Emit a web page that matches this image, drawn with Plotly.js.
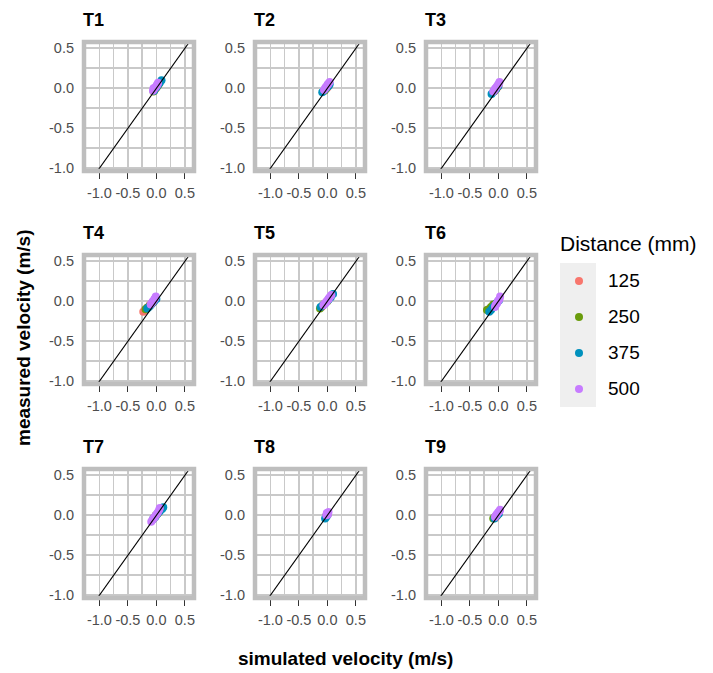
<!DOCTYPE html>
<html>
<head>
<meta charset="utf-8">
<script src="https://cdn.plot.ly/plotly-3.0.1.min.js"></script>
<style>
  html, body { margin: 0; padding: 0; background: #ffffff; }
  #chart { width: 713px; height: 673px; }
</style>
</head>
<body>
<div id="chart"></div>
<script>
// Facet names and legend categories
const panelNames = ['T1', 'T2', 'T3', 'T4', 'T5', 'T6', 'T7', 'T8', 'T9'];
const distanceLabels = ['125', '250', '375', '500'];

// Axis ticks (shared by every facet)
const tickValues = [-1.0, -0.5, 0.0, 0.5];
const tickLabels = ['-1.0', '-0.5', '0.0', '0.5'];

// Simulated (x) and measured (y) velocities in m/s, one list per facet T1..T9
const sim125 = [
  [-0.04, -0.02, 0.00, 0.02, 0.03],
  [-0.04, -0.01, 0.01, 0.03],
  [-0.06, -0.03, 0.00],
  [-0.23, -0.20, -0.16, -0.12],
  [-0.10, -0.06, -0.02],
  [-0.15, -0.11, -0.07],
  [-0.04, 0.00, 0.03],
  [-0.01, 0.01],
  [-0.05, -0.02]
];
const meas125 = [
  [-0.03, -0.01, 0.01, 0.03, 0.04],
  [-0.02, 0.00, 0.02, 0.04],
  [-0.03, 0.00, 0.03],
  [-0.13, -0.11, -0.08, -0.05],
  [-0.07, -0.04, -0.01],
  [-0.10, -0.07, -0.04],
  [-0.03, 0.00, 0.03],
  [0.00, 0.02],
  [-0.03, 0.00]
];

const sim250 = [
  [-0.05, -0.02, 0.01, 0.03, 0.05],
  [-0.05, -0.02, 0.00, 0.02],
  [-0.08, -0.04, -0.01],
  [-0.19, -0.16, -0.12, -0.08, -0.05],
  [-0.13, -0.09, -0.05, 0.00],
  [-0.20, -0.17, -0.13, -0.09],
  [-0.05, -0.01, 0.03],
  [-0.02, 0.00],
  [-0.09, -0.06, -0.02]
];
const meas250 = [
  [-0.04, -0.01, 0.02, 0.04, 0.06],
  [-0.03, 0.00, 0.02, 0.04],
  [-0.04, -0.01, 0.02],
  [-0.10, -0.08, -0.06, -0.03, -0.01],
  [-0.09, -0.06, -0.03, 0.00],
  [-0.11, -0.10, -0.07, -0.04],
  [-0.04, 0.00, 0.03],
  [-0.01, 0.01],
  [-0.04, -0.02, 0.00]
];

const sim375 = [
  [-0.04, 0.00, 0.03, 0.06, 0.09],
  [-0.09, -0.05, -0.01, 0.02, 0.04],
  [-0.12, -0.08, -0.04, 0.00],
  [-0.16, -0.13, -0.10, -0.07, -0.04, 0.00],
  [-0.12, -0.08, -0.03, 0.02, 0.06, 0.10],
  [-0.16, -0.13, -0.10, -0.07, -0.03, 0.01],
  [-0.06, -0.02, 0.02, 0.06, 0.10, 0.12],
  [-0.04, -0.02, 0.00],
  [-0.07, -0.03, 0.01]
];
const meas375 = [
  [-0.03, 0.01, 0.04, 0.07, 0.10],
  [-0.05, -0.02, 0.01, 0.03, 0.05],
  [-0.07, -0.04, -0.01, 0.03],
  [-0.09, -0.07, -0.05, -0.02, 0.00, 0.03],
  [-0.07, -0.05, -0.02, 0.02, 0.05, 0.09],
  [-0.13, -0.11, -0.08, -0.06, -0.02, 0.01],
  [-0.05, -0.02, 0.02, 0.05, 0.08, 0.10],
  [-0.04, -0.02, 0.00],
  [-0.04, -0.01, 0.02]
];

const sim500 = [
  [-0.06, -0.05, -0.04, -0.02, 0.00, 0.01, 0.02, 0.03],
  [-0.06, -0.04, -0.03, -0.02, 0.00, 0.01, 0.02, 0.04],
  [-0.09, -0.07, -0.06, -0.05, -0.03, -0.01, 0.01, 0.02],
  [-0.10, -0.08, -0.07, -0.06, -0.04, -0.03, -0.02, -0.01],
  [-0.07, -0.05, -0.03, -0.02, -0.01, 0.01, 0.02, 0.03, 0.05, 0.07],
  [-0.06, -0.05, -0.04, -0.02, -0.01, 0.00, 0.02, 0.03],
  [-0.09, -0.07, -0.05, -0.04, -0.03, -0.01, 0.01, 0.03, 0.05, 0.06],
  [-0.02, -0.01, 0.00, 0.01, 0.02],
  [-0.06, -0.04, -0.03, -0.02, 0.00, 0.02, 0.03]
];
const meas500 = [
  [-0.03, 0.00, -0.01, 0.01, 0.03, 0.04, 0.05, 0.07],
  [-0.02, 0.00, 0.01, 0.02, 0.04, 0.05, 0.06, 0.08],
  [-0.04, -0.02, -0.01, 0.00, 0.02, 0.04, 0.06, 0.08],
  [-0.04, -0.02, -0.01, 0.00, 0.02, 0.03, 0.04, 0.06],
  [-0.05, -0.03, -0.02, -0.01, 0.00, 0.02, 0.03, 0.04, 0.06, 0.08],
  [-0.07, -0.05, -0.04, -0.02, 0.00, 0.01, 0.03, 0.06],
  [-0.08, -0.06, -0.04, -0.03, -0.02, 0.00, 0.02, 0.04, 0.07, 0.09],
  [0.00, 0.03, 0.02, 0.01, 0.04],
  [-0.02, 0.00, 0.01, 0.02, 0.04, 0.05, 0.07]
];

// y = x reference line endpoints (clipped by each facet's axes)
const identityLine = [-1.5, 1.0];

// ---- styling ----
const FONT = 'Liberation Sans, Arial, sans-serif';
const W = 713, H = 673;
const colors = ['#f8766d', '#6a9c0c', '#0091bd', '#c77cff'];
const simSets = [sim125, sim250, sim375, sim500];
const measSets = [meas125, meas250, meas375, meas500];

const colLeft = [84, 255, 426];   // plot-area left edges (px)
const rowTop = [42, 255, 469];    // plot-area top edges (px)
const panelW = 110, panelH = 129;
const xRange = [-1.27, 0.66];
const yRange = [-1.034, 0.579];

const px = v => v / W;
const py = v => 1 - v / H;

const traces = [];
const shapes = [];
const annotations = [];
const layout = {
  width: W, height: H,
  margin: { l: 0, r: 0, t: 0, b: 0, pad: 0 },
  paper_bgcolor: '#ffffff',
  plot_bgcolor: '#ffffff',
  showlegend: false,
  font: { family: FONT, color: '#000000' }
};

const gridColor = '#c9c9c9';
const tickFont = { family: FONT, size: 14.5, color: '#4d4d4d' };

panelNames.forEach((name, i) => {
  const n = i + 1;
  const col = i % 3, row = Math.floor(i / 3);
  const xa = 'x' + n, ya = 'y' + n;
  const left = colLeft[col], top = rowTop[row];

  layout['xaxis' + n] = {
    domain: [px(left), px(left + panelW)],
    range: xRange,
    anchor: ya,
    tickmode: 'array', tickvals: tickValues, ticktext: tickLabels,
    ticks: 'outside', ticklen: 7, tickwidth: 1.2, tickcolor: '#333333',
    ticklabelstandoff: 2,
    tickfont: tickFont,
    showgrid: true, gridcolor: gridColor, gridwidth: 1.7,
    minor: { tickmode: 'array', tickvals: [-1.25, -0.75, -0.25, 0.25], showgrid: true, gridcolor: gridColor, gridwidth: 1.7, ticks: '' },
    zeroline: false, showline: false, fixedrange: true
  };
  layout['yaxis' + n] = {
    domain: [py(top + panelH), py(top)],
    range: yRange,
    anchor: xa,
    tickmode: 'array', tickvals: tickValues, ticktext: tickLabels,
    ticks: '', ticklabelstandoff: 9,
    tickfont: tickFont,
    showgrid: true, gridcolor: gridColor, gridwidth: 1.7,
    minor: { tickmode: 'array', tickvals: [-0.75, -0.25, 0.25], showgrid: true, gridcolor: gridColor, gridwidth: 1.7, ticks: '' },
    zeroline: false, showline: false, fixedrange: true
  };

  // measured vs simulated points, one trace per distance
  distanceLabels.forEach((d, k) => {
    traces.push({
      type: 'scatter', mode: 'markers',
      x: simSets[k][i], y: measSets[k][i],
      xaxis: xa, yaxis: ya,
      marker: { size: 8, color: colors[k], line: { width: 0 } },
      name: d, hoverinfo: 'x+y+name'
    });
  });

  // 1:1 line
  traces.push({
    type: 'scatter', mode: 'lines',
    x: identityLine, y: identityLine,
    xaxis: xa, yaxis: ya,
    line: { color: '#000000', width: 1.1 },
    hoverinfo: 'skip'
  });

  // panel border
  shapes.push({
    type: 'rect', xref: xa + ' domain', yref: ya + ' domain',
    x0: 0, x1: 1, y0: 0, y1: 1,
    line: { color: '#bebebe', width: 4.5 }, fillcolor: 'rgba(0,0,0,0)', layer: 'above'
  });

  // facet label
  annotations.push({
    text: '<b>' + name + '</b>', xref: 'paper', yref: 'paper',
    x: px(left - 3), y: py(top - 22), xanchor: 'left', yanchor: 'middle',
    showarrow: false, font: { family: FONT, size: 18, color: '#000000' }
  });
});

// axis titles
annotations.push({
  text: '<b>simulated velocity (m/s)</b>', xref: 'paper', yref: 'paper',
  x: px(345), y: py(658), xanchor: 'center', yanchor: 'middle',
  showarrow: false, font: { family: FONT, size: 19, color: '#000000' }
});
annotations.push({
  text: '<b>measured velocity (m/s)</b>', xref: 'paper', yref: 'paper',
  x: px(23), y: py(338), xanchor: 'center', yanchor: 'middle', textangle: -90,
  showarrow: false, font: { family: FONT, size: 19, color: '#000000' }
});

// legend drawn on its own small axis pair (x units ~ pixels)
layout.xaxis10 = { domain: [px(560), px(700)], range: [0, 140], anchor: 'y10', visible: false, fixedrange: true };
layout.yaxis10 = { domain: [py(407), py(263)], range: [3.5, -0.5], anchor: 'x10', visible: false, fixedrange: true };
shapes.push({
  type: 'rect', xref: 'x10', yref: 'y10', x0: 0, x1: 36, y0: -0.5, y1: 3.5,
  line: { width: 0 }, fillcolor: '#efefef', layer: 'below'
});
traces.push({
  type: 'scatter', mode: 'markers',
  x: distanceLabels.map(() => 19), y: distanceLabels.map((d, k) => k),
  xaxis: 'x10', yaxis: 'y10',
  marker: { size: 8, color: colors, line: { width: 0 } },
  hoverinfo: 'skip'
});
distanceLabels.forEach((d, k) => {
  annotations.push({
    text: d, xref: 'x10', yref: 'y10', x: 46, y: k,
    xanchor: 'left', yanchor: 'middle', showarrow: false,
    font: { family: FONT, size: 19, color: '#000000' }
  });
});
annotations.push({
  text: 'Distance (mm)', xref: 'paper', yref: 'paper',
  x: px(558), y: py(243), xanchor: 'left', yanchor: 'middle',
  showarrow: false, font: { family: FONT, size: 21, color: '#000000' }
});

layout.shapes = shapes;
layout.annotations = annotations;

Plotly.newPlot('chart', traces, layout, { displayModeBar: false, staticPlot: true });
</script>
</body>
</html>
